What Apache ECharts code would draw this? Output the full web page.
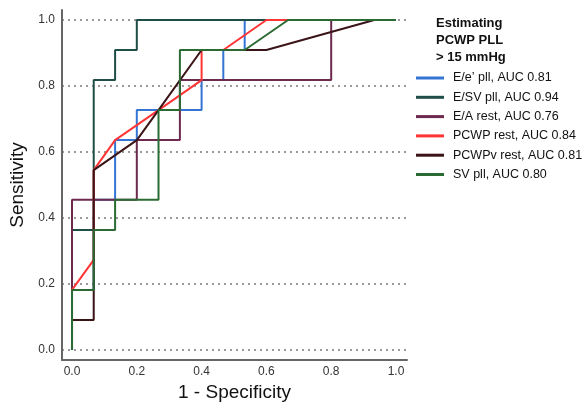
<!DOCTYPE html>
<html>
<head>
<meta charset="utf-8">
<script src="https://cdn.jsdelivr.net/npm/echarts@6/dist/echarts.min.js"></script>
<style>
html,body{margin:0;padding:0;background:#fff;}
#chart{width:588px;height:402px;}
</style>
</head>
<body>
<div id="chart"></div>
<script>
// Tick labels
const tickValues = [0, 0.2, 0.4, 0.6, 0.8, 1.0];

// Series names
const seriesNames = [
  'E/e\u2019 pll, AUC 0.81',
  'E/SV pll, AUC 0.94',
  'E/A rest, AUC 0.76',
  'PCWP rest, AUC 0.84',
  'PCWPv rest, AUC 0.81',
  'SV pll, AUC 0.80'
];
const seriesColors = ['#3474d4', '#1f4d47', '#6e2a4e', '#ff3434', '#3a1416', '#2b6b33'];

// 1 - Specificity (x) and Sensitivity (y) per curve
const eePllFpr  = [0, 0, 0.067, 0.067, 0.133, 0.133, 0.2, 0.2, 0.4, 0.4, 0.467, 0.467, 0.533, 0.533, 1];
const eePllSens = [0, 0.182, 0.182, 0.455, 0.455, 0.636, 0.636, 0.727, 0.727, 0.818, 0.818, 0.909, 0.909, 1, 1];

const esvPllFpr  = [0, 0, 0.067, 0.067, 0.133, 0.133, 0.2, 0.2, 1];
const esvPllSens = [0, 0.364, 0.364, 0.818, 0.818, 0.909, 0.909, 1, 1];

const eaRestFpr  = [0, 0, 0.2, 0.2, 0.333, 0.333, 0.8, 0.8, 1];
const eaRestSens = [0, 0.455, 0.455, 0.636, 0.636, 0.818, 0.818, 1, 1];

const pcwpRestFpr  = [0, 0, 0.067, 0.067, 0.133, 0.267, 0.4, 0.4, 0.467, 0.6, 1];
const pcwpRestSens = [0, 0.182, 0.273, 0.545, 0.636, 0.727, 0.818, 0.909, 0.909, 1, 1];

const pcwpvRestFpr  = [0, 0, 0.067, 0.067, 0.2, 0.267, 0.4, 0.6, 0.933, 1];
const pcwpvRestSens = [0, 0.091, 0.091, 0.545, 0.636, 0.727, 0.909, 0.909, 1, 1];

const svPllFpr  = [0, 0, 0.067, 0.067, 0.133, 0.133, 0.267, 0.267, 0.333, 0.333, 0.533, 0.667, 1];
const svPllSens = [0, 0.182, 0.182, 0.364, 0.364, 0.455, 0.455, 0.727, 0.727, 0.909, 0.909, 1, 1];

const curves = [
  [eePllFpr, eePllSens],
  [esvPllFpr, esvPllSens],
  [eaRestFpr, eaRestSens],
  [pcwpRestFpr, pcwpRestSens],
  [pcwpvRestFpr, pcwpvRestSens],
  [svPllFpr, svPllSens]
];

function pairs(xs, ys) { return xs.map((x, i) => [x, ys[i]]); }

const chart = echarts.init(document.getElementById('chart'), null, {renderer: 'canvas'});

const FONT = 'Liberation Sans, Arial, sans-serif';

chart.setOption({
  animation: false,
  backgroundColor: '#ffffff',
  title: {
    text: 'Estimating\nPCWP PLL\n> 15 mmHg',
    left: 431,
    top: 10,
    textStyle: {fontFamily: FONT, fontSize: 13, fontWeight: 'bold', color: '#111', lineHeight: 17}
  },
  legend: {
    orient: 'vertical',
    left: 411,
    top: 66,
    itemWidth: 28,
    itemHeight: 3,
    itemGap: 5.3,
    data: seriesNames.map((n, i) => ({name: n, icon: 'rect', itemStyle: {color: seriesColors[i]}})),
    textStyle: {fontFamily: FONT, fontSize: 12.5, color: '#111', lineHeight: 14, padding: [0, 0, 0, 4]},
    itemStyle: {borderWidth: 0}
  },
  grid: {left: 62, right: 181, top: 10, bottom: 42, containLabel: false, outerBoundsMode: 'none'},
  xAxis: {
    type: 'value',
    min: -0.0309,
    max: 1.034,
    name: '1 - Specificity',
    nameLocation: 'middle',
    nameGap: 18,
    nameTextStyle: {fontFamily: FONT, fontSize: 19, color: '#111'},
    axisLine: {show: true, onZero: false, lineStyle: {color: '#666', width: 2}},
    axisTick: {show: false, customValues: tickValues},
    axisLabel: {customValues: tickValues, formatter: v => v.toFixed(1), fontFamily: FONT, fontSize: 12, color: '#333', margin: 6},
    splitLine: {show: false}
  },
  yAxis: {
    type: 'value',
    min: -0.0303,
    max: 1.0303,
    name: 'Sensitivity',
    nameLocation: 'middle',
    nameGap: 32,
    nameTextStyle: {fontFamily: FONT, fontSize: 19, color: '#111'},
    axisLine: {show: true, onZero: false, lineStyle: {color: '#666', width: 2}},
    axisTick: {show: false, customValues: tickValues},
    axisLabel: {customValues: tickValues, formatter: v => v.toFixed(1), fontFamily: FONT, fontSize: 12, color: '#333', margin: 7},
    splitLine: {show: true, lineStyle: {color: '#9a9a9a', width: 2, type: [2, 4]}}
  },
  series: curves.map((c, i) => ({
    name: seriesNames[i],
    type: 'line',
    data: pairs(c[0], c[1]),
    symbol: 'none',
    showSymbol: false,
    lineStyle: {color: seriesColors[i], width: 2},
    itemStyle: {color: seriesColors[i]},
    z: 2 + i
  }))
});
</script>
</body>
</html>
